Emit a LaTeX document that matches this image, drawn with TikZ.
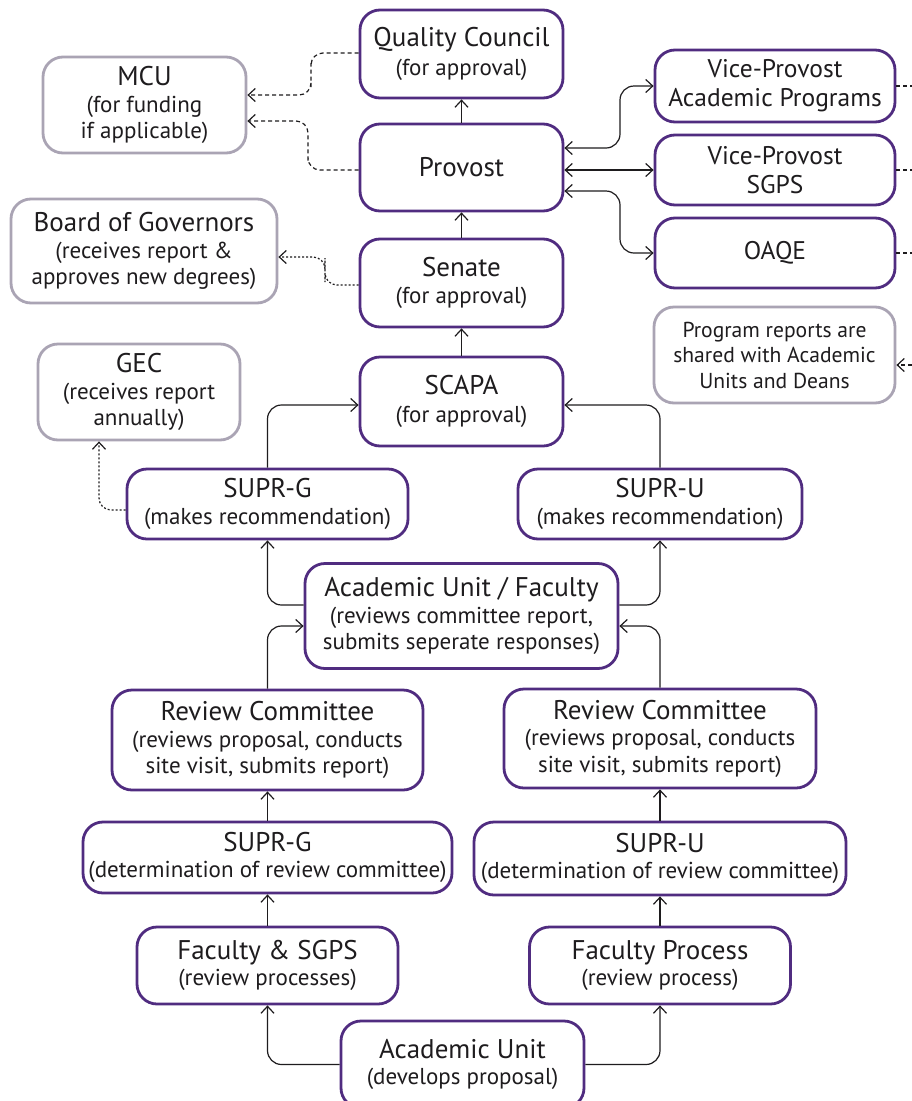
\documentclass[tikz,border=0pt]{standalone}
\usepackage{fontspec}
\setmainfont{PT Sans}
\usetikzlibrary{arrows.meta}
\definecolor{purp}{RGB}{80,44,128}
\definecolor{greyb}{RGB}{170,164,180}
\definecolor{ink}{RGB}{30,28,30}
\newcommand\hd[1]{{\fontsize{27}{30}\selectfont #1}}
\begin{document}
\begin{tikzpicture}[x=1pt,y=-1pt,
  >={Straight Barb[length=7pt,width=13pt]},
  box/.style={draw=purp, line width=2.8pt, rounded corners=20pt, fill=white,
    align=center, inner sep=0pt, text=ink, font=\fontsize{23}{26.5}\selectfont},
  gbox/.style={box, draw=greyb},
  vbox/.style={box, font=\fontsize{25.5}{29}\selectfont},
  sz/.style 2 args={minimum width=#1pt, minimum height=#2pt},
  conn/.style={draw=ink, line width=1.2pt, rounded corners=14pt},
  dsh/.style={conn, dash pattern=on 4pt off 3pt, rounded corners=12pt},
  dtt/.style={conn, dash pattern=on 2pt off 2pt, rounded corners=12pt}]
\fill[white] (0,0) rectangle (912,1101);
\useasboundingbox (0,0) rectangle (912,1101);
% main column
\node[box,sz={203}{88}] (QC) at (461.5,54) {\hd{Quality Council}\\[2pt](for approval)};
\node[box,sz={203}{87}] (PV) at (461.5,167.5) {\hd{Provost}};
\node[box,sz={203}{88}] (SN) at (461.5,283) {\hd{Senate}\\(for approval)};
\node[box,sz={203}{89}] (SC) at (461.5,401.5) {\hd{SCAPA}\\[2pt](for approval)};
% left grey boxes
\node[gbox,sz={203}{96}] (MCU) at (144.5,105) {\hd{MCU}\\(for funding\\if applicable)};
\node[gbox,sz={266}{104}] (BG) at (144,251) {\hd{Board of Governors}\\(receives report \&\\approves new degrees)};
\node[gbox,sz={202}{96}] (GEC) at (139,392) {\hd{GEC}\\(receives report\\annually)};
% right boxes
\node[vbox,sz={240}{72}] (VA) at (775,86) {Vice-Provost\\Academic Programs};
\node[vbox,sz={240}{70}] (VS) at (775,170) {Vice-Provost\\SGPS};
\node[vbox,sz={240}{70}] (OA) at (775,253) {OAQE};
\node[gbox,sz={241}{96},font=\fontsize{21.6}{25.5}\selectfont] (PR) at (774.5,355) {Program reports are\\shared with Academic\\Units and Deans};
% lower part
\node[box,sz={281}{70}] (SGm) at (267.5,504) {\hd{SUPR-G}\\(makes recommendation)};
\node[box,sz={284}{70}] (SUm) at (660,504) {\hd{SUPR-U}\\(makes recommendation)};
\node[box,sz={313}{105}] (AUF) at (461.5,616) {\hd{Academic Unit / Faculty}\\(reviews committee report,\\submits seperate responses)};
\node[box,sz={311}{100}] (RL) at (267.5,740) {\hd{Review Committee}\\(reviews proposal, conducts\\site visit, submits report)};
\node[box,sz={312}{99}] (RR) at (660,738.5) {\hd{Review Committee}\\(reviews proposal, conducts\\site visit, submits report)};
\node[box,sz={369}{71}] (GD) at (267.5,857.5) {\hd{SUPR-G}\\(determination of review committee)};
\node[box,sz={372}{73}] (UD) at (660,858.5) {\hd{SUPR-U}\\(determination of review committee)};
\node[box,sz={261}{77}] (FS) at (267.5,965.5) {\hd{Faculty \& SGPS}\\(review processes)};
\node[box,sz={261}{77}] (FP) at (660,965.5) {\hd{Faculty Process}\\(review process)};
\node[box,sz={243}{87}] (AU) at (462.5,1064.5) {\hd{Academic Unit}\\(develops proposal)};
% free ends at the right edge
\coordinate (e1) at (912,86);
\coordinate (e2) at (912,170);
\coordinate (e3) at (912,253);
\coordinate (e4) at (912,365);
% solid connectors
\draw[conn,->] (PV.north) -- (QC.south);
\draw[conn,->] (SN.north) -- (PV.south);
\draw[conn,->] (SC.north) -- (SN.south);
\draw[conn,->] (SGm.north) |- (SC.west |- 0,405);
\draw[conn,->] (SUm.north) |- (SC.east |- 0,405);
\draw[conn,->] (AUF.west |- 0,605) -| (SGm.south);
\draw[conn,->] (AUF.east |- 0,605) -| (SUm.south);
\draw[conn,->] (RL.north) |- (AUF.west |- 0,626);
\draw[conn,->] (RR.north) |- (AUF.east |- 0,626);
\draw[conn,->] (GD.north) -- (RL.south);
\draw[conn,->] (UD.north) -- (RR.south);
\draw[conn,->] (FS.north) -- (GD.south);
\draw[conn,->] (FP.north) -- (UD.south);
\draw[conn,->] (AU.west) -| (FS.south);
\draw[conn,->] (AU.east) -| (FP.south);
\draw[conn,<->] (PV.east |- 0,148) -| (620,120) |- (VA.west);
\draw[conn,<->] (PV.east |- VS.west) -- (VS.west);
\draw[conn,<->] (PV.east |- 0,191) -| (620,220) |- (OA.west);
% dashed connectors
\draw[dsh,->] (QC.west |- 0,53) -| (311,75) |- (MCU.east |- 0,95);
\draw[dsh,->] (PV.west |- 0,170) -| (308,150) |- (MCU.east |- 0,121);
\draw[dtt,->] (SN.west |- 0,285) -| (325,270) |- (BG.east |- 0,257);
\draw[dtt,->] (SGm.west |- 0,510) -| (GEC.south -| 99,0);
\draw[dsh] (VA.east) -- (e1);
\draw[dsh] (VS.east) -- (e2);
\draw[dsh] (OA.east) -- (e3);
\draw[dsh,->] (e4) -- (PR.east |- e4);
\end{tikzpicture}
\end{document}
